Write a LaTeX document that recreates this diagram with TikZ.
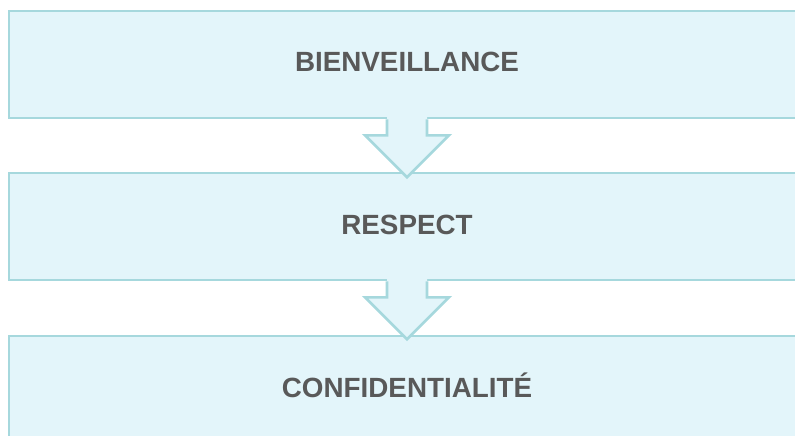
\documentclass[tikz,border=0pt]{standalone}
\usepackage{fontspec}
\setmainfont{Liberation Sans}
\usetikzlibrary{calc}
\definecolor{boxfill}{HTML}{E3F5FA}
\definecolor{boxline}{HTML}{A6D8DD}
\definecolor{labeltext}{HTML}{595959}
\begin{document}
\begin{tikzpicture}[x=1pt,y=-1pt,
  stagebox/.style={draw=boxline, fill=boxfill, line width=2.6pt,
    minimum width=796pt, minimum height=107pt, inner sep=0pt,
    text height=20pt, text depth=5pt,
    text=labeltext, font=\fontsize{27.8pt}{32pt}\selectfont\bfseries},
  flowfill/.style={fill=boxfill},
  flowline/.style={draw=boxline, line width=2.6pt, line join=miter}]
  \clip (0,0) rectangle (795,436);
  \fill[white] (0,0) rectangle (795,436);
  % the three stages
  \node[stagebox] (b1) at (407,64.5)  {BIENVEILLANCE};
  \node[stagebox] (b2) at (407,226.5) {RESPECT};
  \node[stagebox] (b3) at (407,389.5) {CONFIDENTIALITÉ};
  % block arrows between consecutive stages
  \foreach \a in {b1,b2}{
    \coordinate (sl) at ($(\a.south)+(-20,0)$);
    \coordinate (sr) at ($(\a.south)+(20,0)$);
    \coordinate (ml) at ($(\a.south)+(-20,16)$);
    \coordinate (mr) at ($(\a.south)+(20,16)$);
    \coordinate (hl) at ($(\a.south)+(-42,16)$);
    \coordinate (hr) at ($(\a.south)+(42,16)$);
    \coordinate (tip) at ($(\a.south)+(0,58)$);
    \fill[flowfill] ($(sl)+(0,-5)$) -- (ml) -- (hl) -- (tip) -- (hr) -- (mr) -- ($(sr)+(0,-5)$) -- cycle;
    \draw[flowline] (sl) -- (ml) -- (hl) -- (tip) -- (hr) -- (mr) -- (sr);
  }
\end{tikzpicture}
\end{document}
